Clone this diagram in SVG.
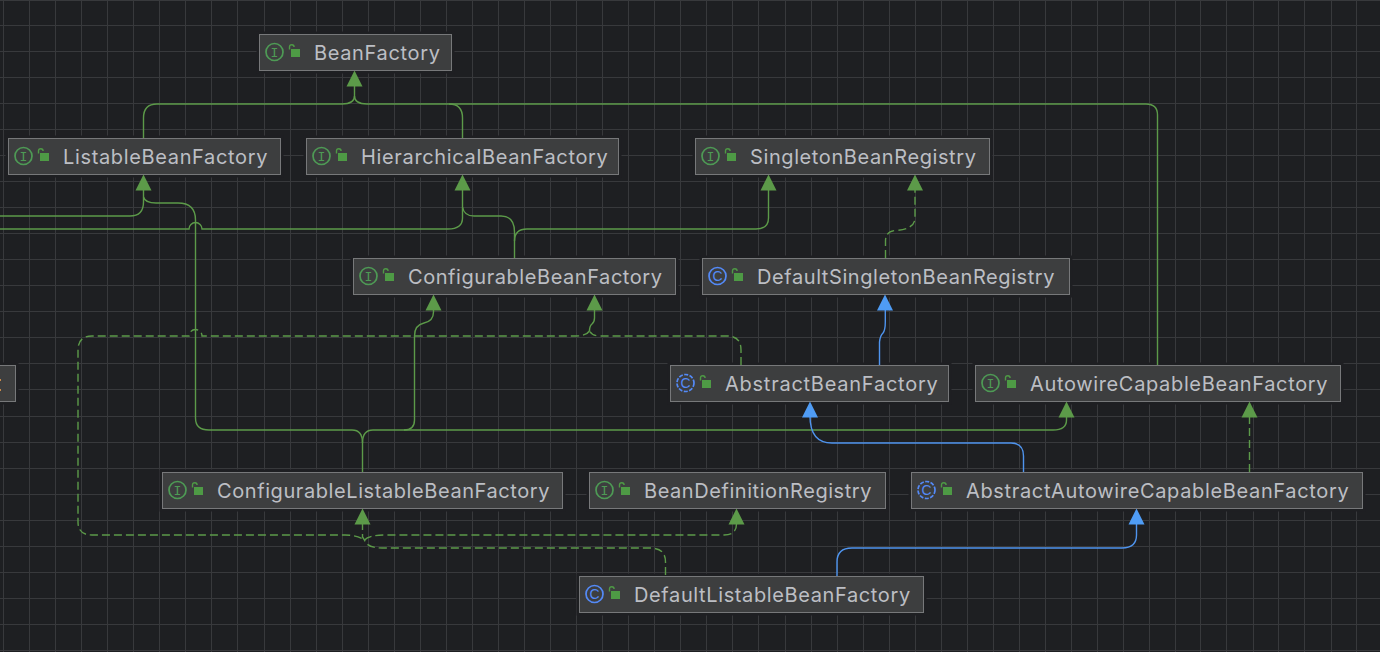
<svg xmlns="http://www.w3.org/2000/svg" width="1380" height="652" viewBox="0 0 1380 652">
<style>
.n{fill:#3d3e3f;stroke:#77787a;stroke-width:1}
.s{fill:#1e1f22;stroke:#1e1f22;stroke-width:6}
.t{font-family:Inter,"Noto Sans",sans-serif;font-size:20px;fill:#bcbec4;letter-spacing:.65px}
.ci{fill:none;stroke:#4e9a55;stroke-width:1.7}
.cc{fill:none;stroke:#548af7;stroke-width:1.7}
.ig{font-family:"DejaVu Sans Mono",monospace;font-size:13px;fill:#4e9a55;text-anchor:middle}
.cg{font-family:"Liberation Sans",sans-serif;font-size:14px;fill:#548af7;text-anchor:middle}
.g{fill:none;stroke:#5c9a49;stroke-width:1.4}
.d{stroke-dasharray:8 4}
.b{fill:none;stroke:#4f94ee;stroke-width:1.4}
.ag{fill:#5c9a49}
.ab{fill:#4f9cf5}
.lk{fill:#4e9a45}
.lks{fill:none;stroke:#4e9a45;stroke-width:1.4}
.grid{fill:none;stroke:#38393c;stroke-width:1}
</style>
<defs>
<g id="lock"><rect x="2" y="2" width="9" height="8" class="lk"/><path d="M.5 2.500V0a2.300 2.300 0 0 1 4.600 0" class="lks"/></g>
</defs>
<rect width="1380" height="652" fill="#1e1f22"/>
<path class="grid" d="M3.500 0V652M29.500 0V652M55.500 0V652M81.500 0V652M107.500 0V652M133.500 0V652M159.500 0V652M185.500 0V652M211.500 0V652M237.500 0V652M264.500 0V652M290.500 0V652M316.500 0V652M342.500 0V652M368.500 0V652M394.500 0V652M420.500 0V652M446.500 0V652M472.500 0V652M498.500 0V652M524.500 0V652M550.500 0V652M576.500 0V652M602.500 0V652M628.500 0V652M654.500 0V652M680.500 0V652M706.500 0V652M732.500 0V652M758.500 0V652M785.500 0V652M811.500 0V652M837.500 0V652M863.500 0V652M889.500 0V652M915.500 0V652M941.500 0V652M967.500 0V652M993.500 0V652M1019.500 0V652M1045.500 0V652M1071.500 0V652M1097.500 0V652M1123.500 0V652M1149.500 0V652M1175.500 0V652M1200.500 0V652M1226.500 0V652M1253.500 0V652M1278.500 0V652M1304.500 0V652M1331.500 0V652M1356.500 0V652M0 .500H1380M0 25.500H1380M0 51.500H1380M0 77.500H1380M0 103.500H1380M0 129.500H1380M0 155.500H1380M0 181.500H1380M0 207.500H1380M0 233.500H1380M0 259.500H1380M0 285.500H1380M0 311.500H1380M0 337.500H1380M0 363.500H1380M0 389.500H1380M0 416.500H1380M0 442.500H1380M0 468.500H1380M0 494.500H1380M0 520.500H1380M0 546.500H1380M0 572.500H1380M0 598.500H1380M0 624.500H1380M0 650.500H1380"/>
<g id="nodes-shadow">
<rect class="s" x="259.5" y="34.5" width="192" height="36"/>
<rect class="s" x="8.5" y="138.5" width="272" height="36"/>
<rect class="s" x="306.5" y="138.5" width="312" height="36"/>
<rect class="s" x="695.5" y="138.5" width="294" height="36"/>
<rect class="s" x="353.5" y="258.5" width="322" height="36"/>
<rect class="s" x="702.5" y="258.5" width="367" height="36"/>
<rect class="s" x="-5" y="365.5" width="20.500" height="36"/>
<rect class="s" x="670.5" y="365.500" width="278" height="36"/>
<rect class="s" x="975.5" y="365.5" width="365" height="36"/>
<rect class="s" x="162.5" y="472.5" width="400" height="36"/>
<rect class="s" x="589.5" y="472.5" width="296" height="36"/>
<rect class="s" x="911.5" y="472.5" width="451" height="36"/>
<rect class="s" x="579.5" y="576.5" width="344" height="36"/>
</g>
<g id="connectors">
<path class="g" d="M143.500 138V118Q143.500 104 157 104H342Q354.500 104 354.500 96V85"/>
<path class="g" d="M462.500 138V118Q462.500 104 449 104H367Q354.500 104 354.500 96"/>
<path class="g" d="M1157.500 365V115Q1157.500 104 1146 104H449"/>
<path class="g" d="M0 216H130Q143.500 216 143.500 202V189"/>
<path class="g" d="M143.500 197Q145 203 156 203H178Q195.500 203 195.500 220V418Q195.500 430 209 430H352Q362.500 430 362.500 443V472"/>
<path class="g" d="M0 229H189a6.500 6.500 0 0 1 13 0H448Q462.500 229 462.500 218V189"/>
<path class="g" d="M462.500 207Q464 216 474 216H501Q514.500 216 514.500 232V258"/>
<path class="g" d="M514.500 241Q514.500 229 527 229H756Q768.500 229 768.500 218V189"/>
<path class="g" d="M362.500 443Q362.500 430 373 430H404Q414.500 430 414.500 420V336Q414.500 325 424 323Q433.500 321 433.500 312V309"/>
<path class="g" d="M404 430H1053Q1066.500 430 1066.500 420V416"/>
<path class="g d" d="M741 365V350Q741 336 727 336H600Q592 336 589.500 331"/>
<path class="g" d="M589.500 331Q589.500 326 592 324Q594.500 322 594.500 318V309"/>
<path class="g d" d="M589.500 331Q586 336 576 336H202a6.500 6.500 0 0 0 -13 0H92Q78 336 78 350V522Q78 535 92 535H345Q357 535 364.500 540"/>
<path class="g d" d="M362.500 522V537L364.500 540Q367 548 382 548H650Q665.500 548 665.500 562V576"/>
<path class="g d" d="M364.500 540Q369 535 385 535H724Q736.500 535 736.500 524V522"/>
<path class="g d" d="M885.500 258V241Q885.500 231 896 230.500Q915 229 915 218V189"/>
<path class="g d" d="M1249.500 472V416"/>
<path class="b" d="M879.500 365V342Q880 336 883 333Q885.300 330 885.300 322V309"/>
<path class="b" d="M1023.500 472V456Q1023.500 443 1011 443H832Q810 443 810 416"/>
<path class="b" d="M837 576V562Q837 548 852 548H1122Q1136.500 548 1136.500 535V523"/>
<path class="ag" d="M354.500 70.500L362.500 86.500H346.500Z"/>
<path class="ag" d="M143.500 174.500L151.500 190.500H135.500Z"/>
<path class="ag" d="M462.500 174.500L470.500 190.500H454.500Z"/>
<path class="ag" d="M768.500 174.500L776.500 190.500H760.500Z"/>
<path class="ag" d="M915 174.500L923 190.500H907Z"/>
<path class="ag" d="M433.500 294.500L441.500 310.500H425.500Z"/>
<path class="ag" d="M594.500 294.500L602.500 310.500H586.500Z"/>
<path class="ab" d="M885 294.500L893 310.500H877Z"/>
<path class="ab" d="M810 401.500L818 417.500H802Z"/>
<path class="ag" d="M1066.500 401.500L1074.500 417.500H1058.500Z"/>
<path class="ag" d="M1249.500 401.500L1257.500 417.500H1241.500Z"/>
<path class="ag" d="M362.500 508.500L370.500 524.500H354.500Z"/>
<path class="ag" d="M736.500 508.500L744.500 524.500H728.500Z"/>
<path class="ab" d="M1136.500 508.500L1144.500 524.500H1128.500Z"/>
</g>
<g id="BeanFactory"><rect class="n" x="259.500" y="34.500" width="192" height="36"/><circle class="ci" cx="274.500" cy="52" r="8.500"/><text class="ig" x="274.500" y="56.500">I</text><use href="#lock" x="289" y="47"/><text class="t" x="314" y="59.500">BeanFactory</text></g>
<g id="ListableBeanFactory"><rect class="n" x="8.500" y="138.500" width="272" height="36"/><circle class="ci" cx="23.500" cy="156" r="8.500"/><text class="ig" x="23.500" y="160.500">I</text><use href="#lock" x="38" y="151"/><text class="t" x="63" y="163.500">ListableBeanFactory</text></g>
<g id="HierarchicalBeanFactory"><rect class="n" x="306.500" y="138.500" width="312" height="36"/><circle class="ci" cx="321.500" cy="156" r="8.500"/><text class="ig" x="321.500" y="160.500">I</text><use href="#lock" x="336" y="151"/><text class="t" x="361" y="163.500">HierarchicalBeanFactory</text></g>
<g id="SingletonBeanRegistry"><rect class="n" x="695.500" y="138.500" width="294" height="36"/><circle class="ci" cx="710.500" cy="156" r="8.500"/><text class="ig" x="710.500" y="160.500">I</text><use href="#lock" x="725" y="151"/><text class="t" x="750" y="163.500" style="letter-spacing:.6px">SingletonBeanRegistry</text></g>
<g id="ConfigurableBeanFactory"><rect class="n" x="353.500" y="258.500" width="322" height="36"/><circle class="ci" cx="368.500" cy="276" r="8.500"/><text class="ig" x="368.500" y="280.500">I</text><use href="#lock" x="383" y="271"/><text class="t" x="408" y="283.500" style="letter-spacing:.56px">ConfigurableBeanFactory</text></g>
<g id="DefaultSingletonBeanRegistry"><rect class="n" x="702.500" y="258.500" width="367" height="36"/><circle class="cc" cx="717.500" cy="276" r="8.500"/><text class="cg" x="717.500" y="281">C</text><use href="#lock" x="732" y="271"/><text class="t" x="757" y="283.500" style="letter-spacing:.58px">DefaultSingletonBeanRegistry</text></g>
<g id="ClippedNode"><rect class="n" x="-5" y="365.500" width="20.500" height="36"/><rect x="0" y="379" width="1" height="2" fill="#c98a4b"/><rect x="0" y="389" width="1" height="2" fill="#c98a4b"/></g>
<g id="AbstractBeanFactory"><rect class="n" x="670.500" y="365.500" width="278" height="36"/><circle class="cc" cx="685.500" cy="383" r="8.500" stroke-dasharray="4 1.500"/><text class="cg" x="685.500" y="388">C</text><use href="#lock" x="700" y="378"/><text class="t" x="725" y="390.500" style="letter-spacing:.75px">AbstractBeanFactory</text></g>
<g id="AutowireCapableBeanFactory"><rect class="n" x="975.500" y="365.500" width="365" height="36"/><circle class="ci" cx="990.500" cy="383" r="8.500"/><text class="ig" x="990.500" y="387.500">I</text><use href="#lock" x="1005" y="378"/><text class="t" x="1030" y="390.500">AutowireCapableBeanFactory</text></g>
<g id="ConfigurableListableBeanFactory"><rect class="n" x="162.500" y="472.500" width="400" height="36"/><circle class="ci" cx="177.500" cy="490" r="8.500"/><text class="ig" x="177.500" y="494.500">I</text><use href="#lock" x="192" y="485"/><text class="t" x="217" y="497.500" style="letter-spacing:.585px">ConfigurableListableBeanFactory</text></g>
<g id="BeanDefinitionRegistry"><rect class="n" x="589.500" y="472.500" width="296" height="36"/><circle class="ci" cx="604.500" cy="490" r="8.500"/><text class="ig" x="604.500" y="494.500">I</text><use href="#lock" x="619" y="485"/><text class="t" x="644" y="497.500" style="letter-spacing:.56px">BeanDefinitionRegistry</text></g>
<g id="AbstractAutowireCapableBeanFactory"><rect class="n" x="911.500" y="472.500" width="451" height="36"/><circle class="cc" cx="926.500" cy="490" r="8.500" stroke-dasharray="4 1.500"/><text class="cg" x="926.500" y="495">C</text><use href="#lock" x="941" y="485"/><text class="t" x="966" y="497.500">AbstractAutowireCapableBeanFactory</text></g>
<g id="DefaultListableBeanFactory"><rect class="n" x="579.500" y="576.500" width="344" height="36"/><circle class="cc" cx="594.500" cy="594" r="8.500"/><text class="cg" x="594.500" y="599">C</text><use href="#lock" x="609" y="589"/><text class="t" x="634" y="601.500" style="letter-spacing:.62px">DefaultListableBeanFactory</text></g>
</svg>
